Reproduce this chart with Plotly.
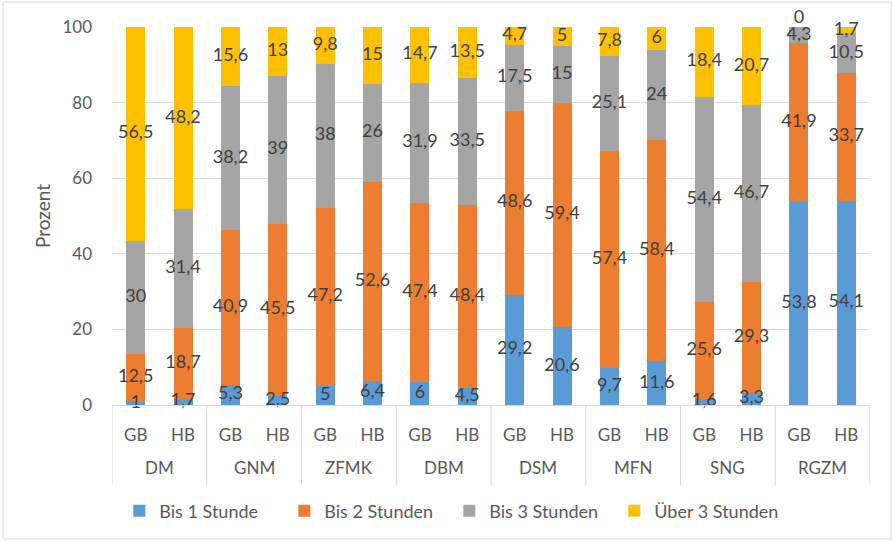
import plotly.graph_objects as go

# Museums and visitor groups (GB / HB)
museums = ["DM", "GNM", "ZFMK", "DBM", "DSM", "MFN", "SNG", "RGZM"]
groups = ["GB", "HB"]

# Share of visitors by length of stay, in percent (GB, HB per museum)
bis_1 = [1, 1.7, 5.3, 2.5, 5, 6.4, 6, 4.5, 29.2, 20.6, 9.7, 11.6, 1.6, 3.3, 53.8, 54.1]
bis_2 = [12.5, 18.7, 40.9, 45.5, 47.2, 52.6, 47.4, 48.4, 48.6, 59.4, 57.4, 58.4, 25.6, 29.3, 41.9, 33.7]
bis_3 = [30, 31.4, 38.2, 39, 38, 26, 31.9, 33.5, 17.5, 15, 25.1, 24, 54.4, 46.7, 4.3, 10.5]
ueber_3 = [56.5, 48.2, 15.6, 13, 9.8, 15, 14.7, 13.5, 4.7, 5, 7.8, 6, 18.4, 20.7, 0, 1.7]

series_names = ["Bis 1 Stunde", "Bis 2 Stunden", "Bis 3 Stunden", "Über 3 Stunden"]
series_values = [bis_1, bis_2, bis_3, ueber_3]
colors = ["#5B9BD5", "#ED7D31", "#A5A5A5", "#FFC000"]

y_ticks = [0, 20, 40, 60, 80, 100]

FONT = "Lato"
TXT = "#595959"
LINE = "#D9D9D9"

# Plot-area geometry in pixels (used for paper-relative offsets below the axis)
W, H = 894, 542
M_L, M_R, M_T, M_B = 112, 24, 27, 137
PLOT_H = H - M_T - M_B

n_groups = len(groups)
x_pos = list(range(len(museums) * n_groups))
x_ticktext = [g for _ in museums for g in groups]

fig = go.Figure()

for name, vals, col in zip(series_names, series_values, colors):
    fig.add_trace(go.Bar(
        x=x_pos, y=vals, name=name, marker=dict(color=col, line=dict(width=0)),
        hovertext=[f"{m} {g}" for m in museums for g in groups],
    ))

# Value labels centred on each stacked segment (empty segments sit just above)
base = [0.0] * len(bis_1)
for vals in series_values:
    mids = [b + v / 2 for b, v in zip(base, vals)]
    labels = [("%g" % v).replace(".", ",") for v in vals]
    positions = ["top center" if v == 0 else "middle center" for v in vals]
    fig.add_trace(go.Scatter(
        x=x_pos, y=mids, mode="text", text=labels,
        textposition=positions,
        textfont=dict(family=FONT, size=18, color="#404040"),
        showlegend=False, hoverinfo="skip", cliponaxis=False,
    ))
    base = [b + v for b, v in zip(base, vals)]

# Museum labels under the GB/HB ticks and the group dividers
annotations = []
shapes = []
div_bottom = -80 / PLOT_H
for i, m in enumerate(museums):
    annotations.append(dict(
        x=i * n_groups + (n_groups - 1) / 2, y=-62 / PLOT_H, xref="x", yref="paper",
        text=m, showarrow=False, yanchor="middle",
        font=dict(family=FONT, size=17, color=TXT),
    ))
for k in range(len(museums) + 1):
    xd = k * n_groups - 0.5
    shapes.append(dict(
        type="line", xref="x", yref="paper", x0=xd, x1=xd, y0=0, y1=div_bottom,
        line=dict(color=LINE, width=1),
    ))

# Chart-area border
shapes.append(dict(
    type="rect", xref="paper", yref="paper",
    x0=(3 - M_L) / (W - M_L - M_R), x1=(891 - M_L) / (W - M_L - M_R),
    y0=-(539 - (H - M_B)) / PLOT_H, y1=(H - M_B - 2) / PLOT_H,
    line=dict(color=LINE, width=1), fillcolor="rgba(0,0,0,0)", layer="below",
))

fig.update_layout(
    barmode="stack",
    bargap=0.6,
    width=W, height=H,
    margin=dict(l=M_L, r=M_R, t=M_T, b=M_B),
    paper_bgcolor="white", plot_bgcolor="white",
    font=dict(family=FONT, size=16, color=TXT),
    showlegend=True,
    legend=dict(
        orientation="h", x=0.445, xanchor="center", y=-106 / PLOT_H, yanchor="middle",
        font=dict(family=FONT, size=18, color=TXT), traceorder="normal",
        itemwidth=30, entrywidth=120, entrywidthmode="pixels",
    ),
    xaxis=dict(
        range=[-0.5, len(x_pos) - 0.5], tickmode="array", tickvals=x_pos,
        ticktext=x_ticktext, showline=True, linecolor=LINE, linewidth=1,
        showgrid=False, zeroline=False, ticks="", ticklabelstandoff=15,
        tickfont=dict(family=FONT, size=17, color=TXT),
    ),
    yaxis=dict(
        range=[0, 100], tickvals=y_ticks, showgrid=True, gridcolor=LINE,
        gridwidth=1, zeroline=False, showline=False, ticks="",
        ticklabelstandoff=19,
        tickfont=dict(family=FONT, size=17, color=TXT),
        title=dict(text="Prozent", font=dict(family=FONT, size=19, color=TXT), standoff=6),
    ),
    annotations=annotations,
    shapes=shapes,
)

fig.write_html("out.html")
